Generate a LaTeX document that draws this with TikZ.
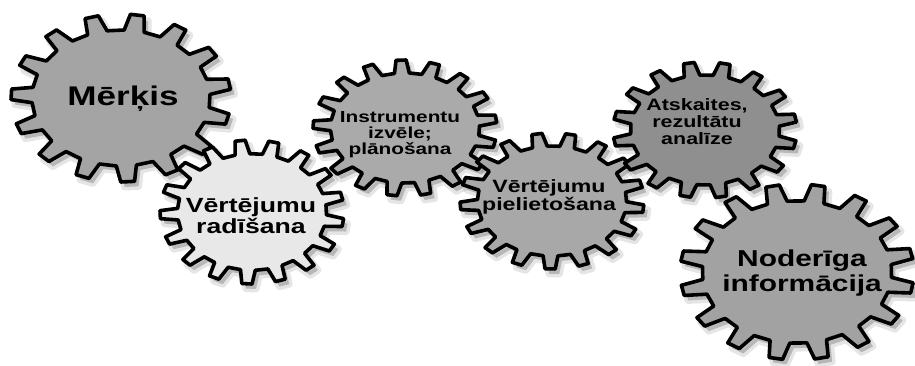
\documentclass[tikz,border=0pt]{standalone}
\usepackage{fontspec}
\newfontfamily\gf[FakeStretch=1.3]{Liberation Sans}
\definecolor{gA}{HTML}{A4A4A4}
\definecolor{gB}{HTML}{E8E8E8}
\definecolor{gC}{HTML}{AAAAAA}
\definecolor{gD}{HTML}{A8A8A8}
\definecolor{gE}{HTML}{8F8F8F}
\definecolor{gF}{HTML}{A2A2A2}
\tikzset{
  gearline/.style={draw=black, line width=3.6pt, line join=round},
  gshadow/.style={fill=black, fill opacity=0.20, draw=black, draw opacity=0.10, line width=7pt, line join=round},
  gtext/.style={align=center, inner sep=0pt, text=black}
}
% #1 name, #2 cx, #3 cy, #4 rx, #5 ry, #6 teeth, #7 phase, #8 fill
\newcommand\mygear[8]{%
  \coordinate (#1) at (#2,#3);
  \begin{scope}[shift={(#2+4,#3-5)}, xscale=#4, yscale=#5]
    \path[gshadow] (#7:0.81) \foreach \k [evaluate=\k as \a using #7+(\k-1)*360/#6] in {1,...,#6}{
      -- ({\a+0.12*360/#6}:1) -- ({\a+0.42*360/#6}:1) -- ({\a+0.54*360/#6}:0.81) -- ({\a+360/#6}:0.81)} -- cycle;
  \end{scope}
  \begin{scope}[shift={(#2,#3)}, xscale=#4, yscale=#5]
    \path[gearline, fill=#8] (#7:0.81) \foreach \k [evaluate=\k as \a using #7+(\k-1)*360/#6] in {1,...,#6}{
      -- ({\a+0.12*360/#6}:1) -- ({\a+0.42*360/#6}:1) -- ({\a+0.54*360/#6}:0.81) -- ({\a+360/#6}:0.81)} -- cycle;
  \end{scope}}
\begin{document}
\begin{tikzpicture}[x=1pt,y=1pt]
  \useasboundingbox (0,0) rectangle (915,365);
  \clip (0,0) rectangle (915,365);
  \fill[white] (0,0) rectangle (915,365);
  \mygear{g1}{121}{267}{110}{84}{15}{3}{gA}
  \mygear{g2}{252}{153}{92}{72}{17}{7}{gB}
  \mygear{g3}{405}{237}{92}{68}{17}{2}{gC}
  \mygear{g4}{552}{164}{92}{68}{17}{9}{gD}
  \mygear{g5}{705}{235}{92}{68}{16}{4}{gE}
  \mygear{g6}{797}{93}{117}{88}{16}{6}{gF}
  \node[gtext, font=\gf\bfseries\fontsize{27}{27}\selectfont] (t1) at (123,266) {Mērķis};
  \node[gtext, font=\gf\bfseries\fontsize{20.5}{21}\selectfont] (t2) at (251,149) {Vērtējumu\\radīšana};
  \node[gtext, font=\gf\bfseries\fontsize{16}{16}\selectfont] (t3) at (400,230) {Instrumentu\\izvēle;\\plānošana};
  \node[gtext, font=\gf\bfseries\fontsize{17.8}{18.5}\selectfont] (t4) at (549,168) {Vērtējumu\\pielietošana};
  \node[gtext, font=\gf\bfseries\fontsize{16.5}{17}\selectfont] (t5) at (697,243) {Atskaites,\\rezultātu\\analīze};
  \node[gtext, font=\gf\bfseries\fontsize{23}{25}\selectfont] (t6) at (802,92) {Noderīga\\informācija};
\end{tikzpicture}
\end{document}
